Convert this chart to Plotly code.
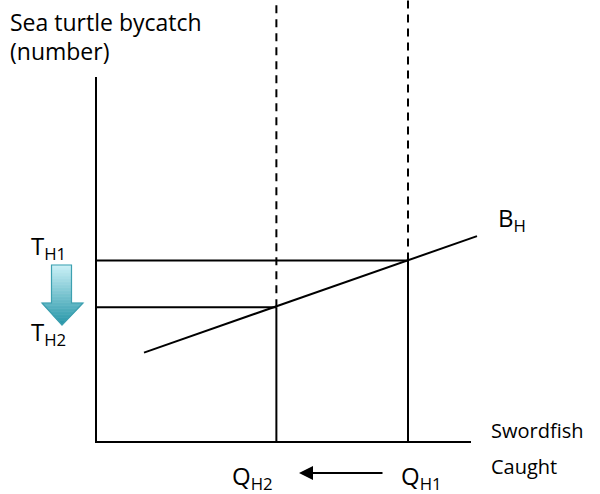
import plotly.graph_objects as go

# ---- data (conceptual diagram units) ----
axis_max_x = 10.0
axis_max_y = 10.0
q_names = ["Q<sub>H2</sub>", "Q<sub>H1</sub>"]
q_values = [4.81, 8.32]          # swordfish caught
t_names = ["T<sub>H2</sub>", "T<sub>H1</sub>"]
t_values = [3.69, 4.97]          # sea turtle bycatch
bh_x = [1.28, 10.16]             # bycatch line B_H
bh_y = [2.45, 5.64]
bh_name = "B<sub>H</sub>"

# ---- pixel helpers (for placing labels/decorations) ----
X0, SX = 96.0, 37.5
Y0, SY = 442.0, 36.5
def dx(p): return (p - X0) / SX
def dy(p): return (Y0 - p) / SY

FONT = "Open Sans"
FS = 24
BLACK = "#000000"

fig = go.Figure()

def seg(xs, ys, dash=None, w=2):
    fig.add_trace(go.Scatter(x=xs, y=ys, mode="lines",
                             line=dict(color=BLACK, width=w, dash=dash),
                             hoverinfo="skip", showlegend=False))

# axes
seg([0, 0, axis_max_x], [axis_max_y, 0, 0])
top = dy(-5)
for q, t in zip(q_values, t_values):
    seg([q, q], [0, t])
    seg([0, q], [t, t])
    seg([q, q], [t, top], dash="8px,6px")
# B_H line
seg(bh_x, bh_y)

ann = []
def text(s, x, y, xanchor="left", yanchor="middle", size=FS):
    ann.append(dict(text=s, x=x, y=y, xref="x", yref="y", showarrow=False,
                    xanchor=xanchor, yanchor=yanchor,
                    font=dict(family=FONT, size=size, color=BLACK)))

text("Sea turtle bycatch", dx(8), dy(22), size=23)
text("(number)", dx(8), dy(51), size=23)
text("Swordfish", dx(489), dy(430), size=20)
text("Caught", dx(489), dy(466), size=20)
text(bh_name, dx(496), dy(219))
text(t_names[1], dx(29), dy(247))
text(t_names[0], dx(29), dy(333))
text(q_names[1], dx(399), dy(477))
text(q_names[0], dx(230), dy(477))

# small black arrow between Q labels
ann.append(dict(x=dx(299), y=dy(473), ax=dx(384), ay=dy(473),
                xref="x", yref="y", axref="x", ayref="y",
                text="", showarrow=True, arrowhead=2, arrowsize=1.4,
                arrowwidth=2, arrowcolor=BLACK))

# big gradient arrow (decoration)
shaft_l, shaft_r, y_top, y_head = 51.5, 71.5, 265.0, 303.0
head_l, head_r, y_tip, tip_x = 42.0, 83.0, 325.0, 62.0
c_top = (205, 242, 248)
c_bot = (38, 150, 168)
def col(y):
    f = (y - y_top) / (y_tip - y_top)
    r, g, b = [round(a + (b_ - a) * f) for a, b_ in zip(c_top, c_bot)]
    return f"rgb({r},{g},{b})"
def x_at(y):
    if y <= y_head:
        return shaft_l, shaft_r
    f = (y - y_head) / (y_tip - y_head)
    return head_l + (tip_x - head_l) * f, head_r + (tip_x - head_r) * f
shapes = []
N = 40
for i in range(N):
    ya = y_top + (y_tip - y_top) * i / N
    yb = y_top + (y_tip - y_top) * (i + 1) / N
    if ya < y_head < yb:
        la, ra = x_at(ya)
        lb, rb = x_at(yb)
        pts = [(la, ya), (ra, ya), (shaft_r, y_head), (head_r, y_head),
               (rb, yb), (lb, yb), (head_l, y_head), (shaft_l, y_head)]
    else:
        la, ra = x_at(ya)
        lb, rb = x_at(yb) if yb != y_head else (shaft_l, shaft_r)
        pts = [(la, ya), (ra, ya), (rb, yb), (lb, yb)]
    path = "M " + " L ".join(f"{dx(px)},{dy(py)}" for px, py in pts) + " Z"
    c = col((ya + yb) / 2)
    shapes.append(dict(type="path", path=path, xref="x", yref="y",
                       fillcolor=c, line=dict(width=0.6, color=c)))
outline = [(shaft_l, y_top), (shaft_r, y_top), (shaft_r, y_head), (head_r, y_head),
           (tip_x, y_tip), (head_l, y_head), (shaft_l, y_head)]
shapes.append(dict(type="path", xref="x", yref="y",
                   path="M " + " L ".join(f"{dx(px)},{dy(py)}" for px, py in outline) + " Z",
                   line=dict(color="rgb(60,160,176)", width=1.2), fillcolor="rgba(0,0,0,0)"))

fig.update_layout(
    width=600, height=494, autosize=False,
    margin=dict(l=0, r=0, t=0, b=0),
    paper_bgcolor="white", plot_bgcolor="white",
    xaxis=dict(range=[dx(0), dx(600)], visible=False, fixedrange=True),
    yaxis=dict(range=[dy(494), dy(0)], visible=False, fixedrange=True),
    annotations=ann, shapes=shapes, showlegend=False,
)
fig.write_html("out.html", config={"displayModeBar": False},
               post_script="document.body.style.margin='0';document.body.style.overflow='hidden';")
